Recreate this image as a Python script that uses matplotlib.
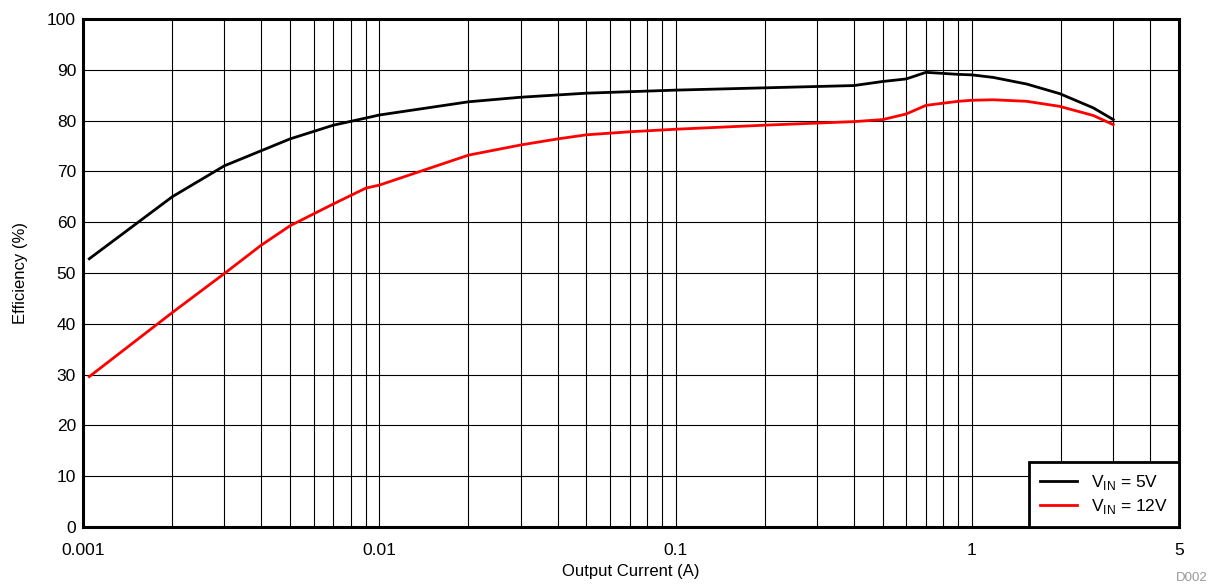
import matplotlib
matplotlib.use("Agg")
import matplotlib.pyplot as plt
import numpy as np

plt.rcParams['font.family'] = ['Liberation Sans', 'DejaVu Sans']

x_5v = [0.00105, 0.002, 0.003, 0.005, 0.007, 0.009, 0.01, 0.02, 0.03, 0.05, 0.1, 0.4, 0.5, 0.6, 0.7, 0.9, 1.0, 1.18, 1.53, 1.98, 2.57, 3.0]
y_5v = [52.8, 65.0, 71.1, 76.4, 79.1, 80.5, 81.1, 83.7, 84.6, 85.4, 86.0, 86.9, 87.7, 88.2, 89.5, 89.1, 89.0, 88.5, 87.2, 85.3, 82.5, 80.2]

x_12v = [0.00105, 0.002, 0.003, 0.004, 0.005, 0.007, 0.009, 0.01, 0.02, 0.03, 0.04, 0.05, 0.07, 0.1, 0.2, 0.4, 0.5, 0.6, 0.7, 0.9, 1.0, 1.18, 1.53, 1.98, 2.57, 3.0]
y_12v = [29.6, 42.2, 49.9, 55.5, 59.3, 63.6, 66.7, 67.3, 73.2, 75.2, 76.4, 77.2, 77.8, 78.3, 79.1, 79.8, 80.2, 81.3, 83.0, 83.8, 84.0, 84.1, 83.8, 82.8, 81.0, 79.2]

xticks = [0.001, 0.01, 0.1, 1, 5]
xticklabels = ["0.001", "0.01", "0.1", "1", "5"]
yticks = list(range(0, 101, 10))

fig = plt.figure(figsize=(12.13, 5.88), dpi=100)
ax = fig.add_axes([83/1213, 1 - 527/588, (1179-83)/1213, (527-19)/588])

ax.set_xscale('log')
ax.set_xlim(0.001, 5)
ax.set_ylim(0, 100)

# grid
minor = [m * 10.0**e for e in range(-3, 1) for m in range(1, 10)]
for v in minor:
    if 0.001 < v < 5:
        ax.axvline(v, color='black', lw=0.8, zorder=1)
for v in yticks[1:-1]:
    ax.axhline(v, color='black', lw=0.8, zorder=1)

ax.plot(x_5v, y_5v, color='black', lw=2, label=r'V$_{\mathregular{IN}}$ = 5V', zorder=3)
ax.plot(x_12v, y_12v, color='#ff0000', lw=2, label=r'V$_{\mathregular{IN}}$ = 12V', zorder=3)

ax.set_xticks(xticks)
ax.set_xticklabels(xticklabels)
ax.xaxis.set_minor_locator(matplotlib.ticker.NullLocator())
ax.set_yticks(yticks)
ax.tick_params(axis='both', length=0, labelsize=12.5)
ax.tick_params(axis='x', pad=11.5)
ax.tick_params(axis='y', pad=5)

for s in ax.spines.values():
    s.set_linewidth(2.2)
    s.set_zorder(4)

ax.set_xlabel('Output Current (A)', fontsize=12, labelpad=4)
ax.set_ylabel('Efficiency (%)', fontsize=12, labelpad=14)

leg = ax.legend(loc='lower right', fontsize=12.5, fancybox=False, framealpha=1,
                edgecolor='black', borderaxespad=0, handlelength=2.1,
                borderpad=0.65, labelspacing=0.25, handletextpad=0.8)
leg.get_frame().set_linewidth(2)
leg.set_zorder(5)

fig.text(1208/1213, 1 - 578/588, 'D002', color='#999999', fontsize=9.5, ha='right', va='center')

fig.savefig('out.png', dpi=100)
